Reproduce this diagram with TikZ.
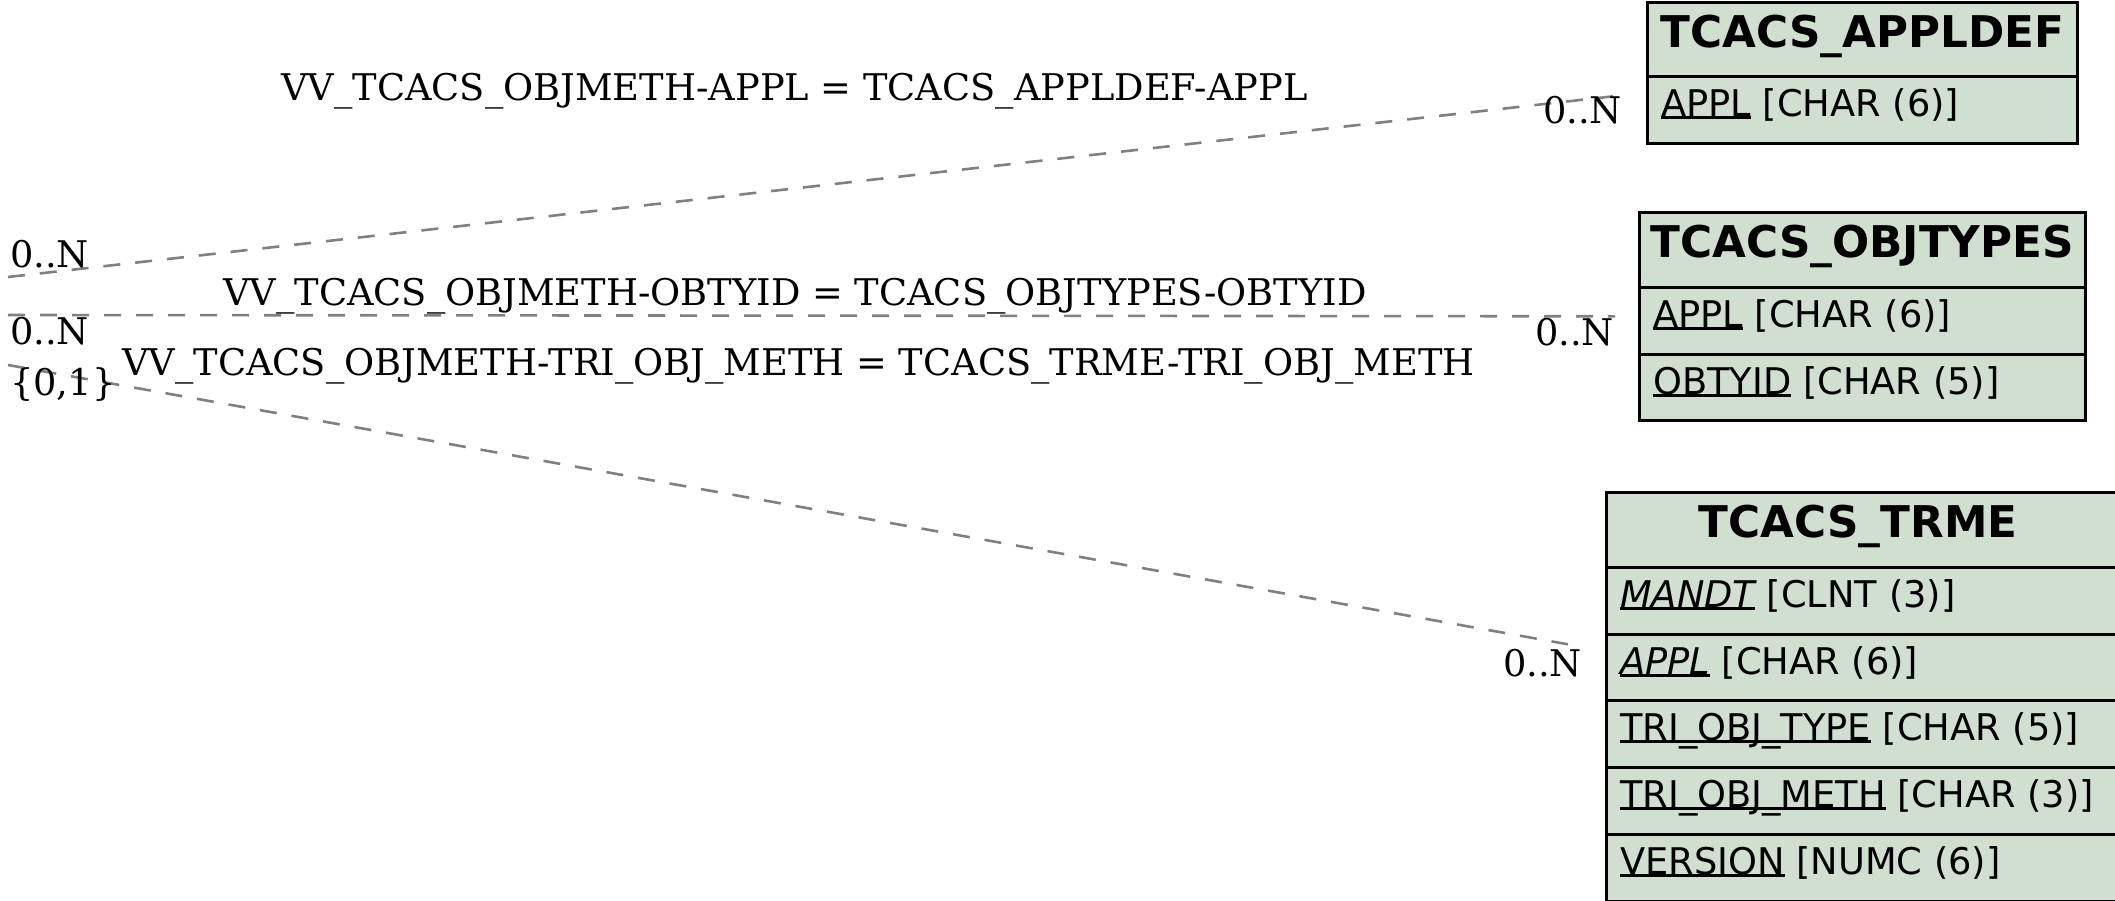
\documentclass[tikz,border=0pt]{standalone}
\usepackage{fontspec}
\setmainfont{DejaVu Serif}
\newfontfamily\tabfont{DejaVu Sans}
\usetikzlibrary{calc}
\definecolor{tabfill}{RGB}{208,223,208}
\definecolor{linegray}{RGB}{128,128,128}
\newcommand\ulx[1]{\setbox0\hbox{#1}\rlap{\rule[-3pt]{\wd0}{2.6pt}}\box0\relax}
\tikzset{
  cell/.style={draw=black, fill=tabfill, line width=2.6pt, rectangle, inner sep=0pt, anchor=north west},
  hdrtext/.style={anchor=base, inner sep=0pt, font=\tabfont\fontsize{43.7}{50}\selectfont\bfseries},
  fldtext/.style={anchor=base west, inner sep=0pt, font=\tabfont\fontsize{36.75}{44}\selectfont},
  reltext/.style={anchor=base west, inner sep=0pt, font=\fontsize{36.75}{44}\selectfont},
  rel/.style={draw=linegray, line width=2.6pt, dash pattern=on 17pt off 15pt}
}
\begin{document}
\begin{tikzpicture}[x=1pt,y=-1pt]
\clip (0,0) rectangle (2115,900);
\useasboundingbox (0,0) rectangle (2115,900);
% TCACS_APPLDEF
\node[cell, minimum width=430, minimum height=74] (ad-h) at (1646,1) {};
\node[cell, minimum width=430, minimum height=67] (ad-1) at (1646,75) {};
\node[hdrtext] at ($(ad-h.north)+(0,46.5)$) {TCACS\_APPLDEF};
\node[fldtext] at ($(ad-1.north west)+(15,41)$) {\ulx{APPL} [CHAR (6)]};
% TCACS_OBJTYPES
\node[cell, minimum width=446, minimum height=75] (ot-h) at (1638,211) {};
\node[cell, minimum width=446, minimum height=67] (ot-1) at (1638,286) {};
\node[cell, minimum width=446, minimum height=66] (ot-2) at (1638,353) {};
\node[hdrtext] at ($(ot-h.north)+(0,46.5)$) {TCACS\_OBJTYPES};
\node[fldtext] at ($(ot-1.north west)+(15,41)$) {\ulx{APPL} [CHAR (6)]};
\node[fldtext] at ($(ot-2.north west)+(15,41)$) {\ulx{OBTYID} [CHAR (5)]};
% TCACS_TRME
\node[cell, minimum width=520, minimum height=75] (tr-h) at (1605,491) {};
\node[cell, minimum width=520, minimum height=67] (tr-1) at (1605,566) {};
\node[cell, minimum width=520, minimum height=66] (tr-2) at (1605,633) {};
\node[cell, minimum width=520, minimum height=67] (tr-3) at (1605,699) {};
\node[cell, minimum width=520, minimum height=67] (tr-4) at (1605,766) {};
\node[cell, minimum width=520, minimum height=67] (tr-5) at (1605,833) {};
\node[hdrtext] at (1858,537.5) {TCACS\_TRME};
\node[fldtext] at ($(tr-1.north west)+(15,41)$) {\ulx{\itshape MANDT} [CLNT (3)]};
\node[fldtext] at ($(tr-2.north west)+(15,41)$) {\ulx{\itshape APPL} [CHAR (6)]};
\node[fldtext] at ($(tr-3.north west)+(15,41)$) {\ulx{TRI\_OBJ\_TYPE} [CHAR (5)]};
\node[fldtext] at ($(tr-4.north west)+(15,41)$) {\ulx{TRI\_OBJ\_METH} [CHAR (3)]};
\node[fldtext] at ($(tr-5.north west)+(15,41)$) {\ulx{VERSION} [NUMC (6)]};
% connector ends
\coordinate (s1) at (8,277);
\coordinate (s2) at (8,315);
\coordinate (s3) at (8,365);
\coordinate (e1) at ($(ad-1.west)+(-33,-13.5)$);
\coordinate (e2) at ($(ot-1.west)+(-23,-4.5)$);
\coordinate (e3) at ($(tr-2.west)+(-37,-23)$);
\draw[rel] (s1) -- (e1);
\draw[rel] (s2) -- (e2);
\draw[rel] (s3) -- (e3);
% labels
\node[reltext] (l1) at (281,100) {VV\_TCACS\_OBJMETH-APPL = TCACS\_APPLDEF-APPL};
\node[reltext] (l2) at (223,305) {VV\_TCACS\_OBJMETH-OBTYID = TCACS\_OBJTYPES-OBTYID};
\node[reltext] (l3) at (122,375) {VV\_TCACS\_OBJMETH-TRI\_OBJ\_METH = TCACS\_TRME-TRI\_OBJ\_METH};
\node[reltext] (c1) at (10,267) {0..N};
\node[reltext] (c2) at (10,344) {0..N};
\node[reltext] (c3) at (10,395) {\{0,1\}};
\node[reltext] (c4) at (1543,123) {0..N};
\node[reltext] (c5) at (1535,345) {0..N};
\node[reltext] (c6) at (1503,676) {0..N};
\end{tikzpicture}
\end{document}
